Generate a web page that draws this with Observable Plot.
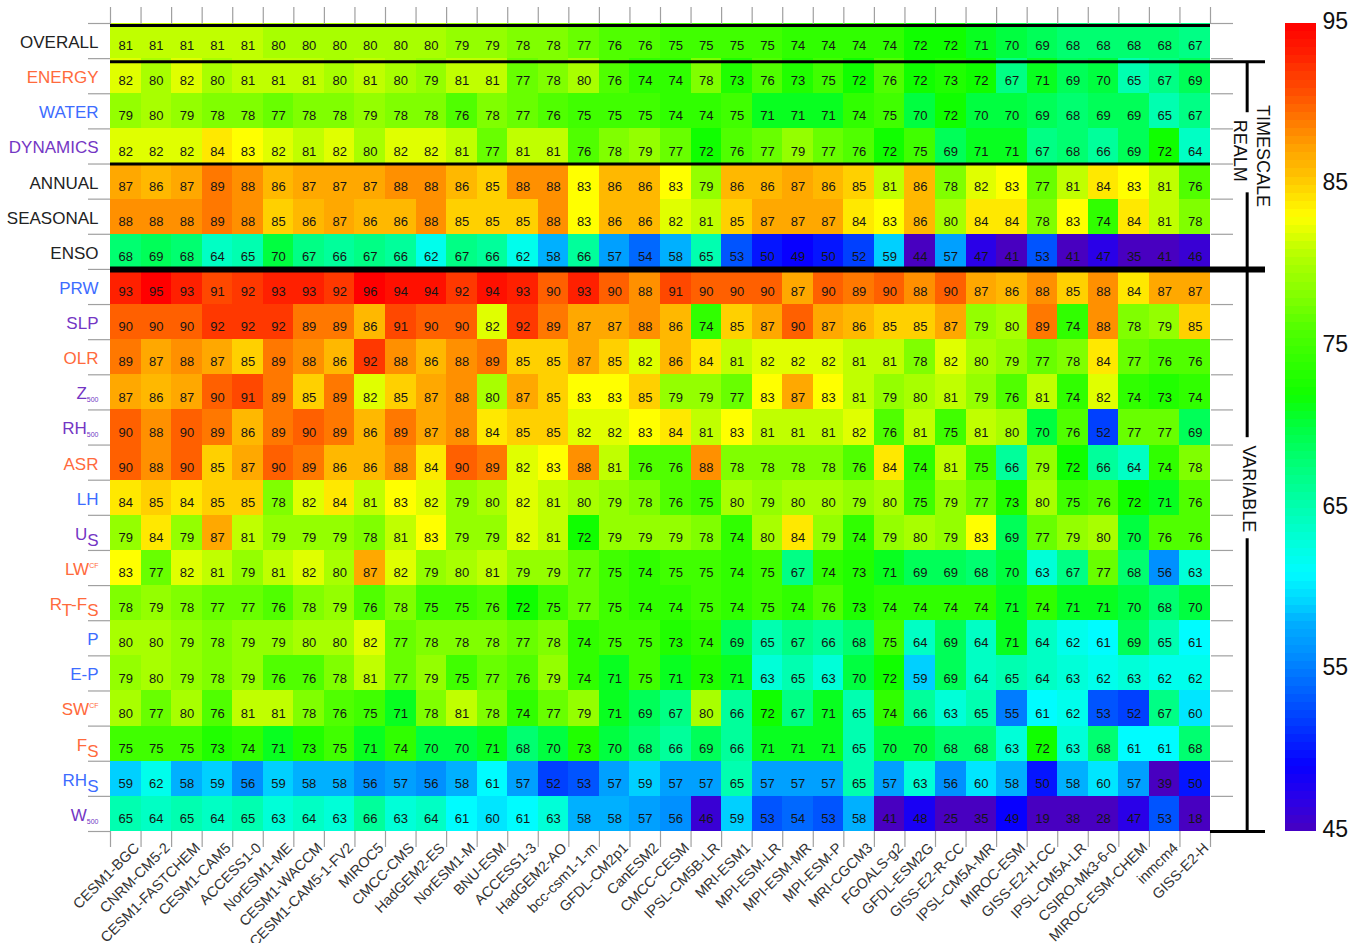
<!DOCTYPE html>
<html>
<head>
<meta charset="utf-8">
<script src="https://cdn.jsdelivr.net/npm/d3@7"></script>
<script src="https://cdn.jsdelivr.net/npm/@observablehq/plot@0.6"></script>
<style>
  body { margin: 0; background: #fff; }
  #wrap { position: relative; width: 1365px; height: 943px; overflow: hidden; }
  #wrap svg { position: absolute; top: 0; }
</style>
</head>
<body>
<div id="wrap"></div>
<script>
// Models, ordered by overall score
const models = ["CESM1-BGC","CNRM-CM5-2","CESM1-FASTCHEM","CESM1-CAM5","ACCESS1-0","NorESM1-ME","CESM1-WACCM","CESM1-CAM5-1-FV2","MIROC5","CMCC-CMS","HadGEM2-ES","NorESM1-M","BNU-ESM","ACCESS1-3","HadGEM2-AO","bcc-csm1-1-m","GFDL-CM2p1","CanESM2","CMCC-CESM","IPSL-CM5B-LR","MRI-ESM1","MPI-ESM-LR","MPI-ESM-MR","MPI-ESM-P","MRI-CGCM3","FGOALS-g2","GFDL-ESM2G","GISS-E2-R-CC","IPSL-CM5A-MR","MIROC-ESM","GISS-E2-H-CC","IPSL-CM5A-LR","CSIRO-Mk3-6-0","MIROC-ESM-CHEM","inmcm4","GISS-E2-H"];

// Row labels: "_x" marks a subscript, "^x" a superscript
const rows = ["OVERALL","ENERGY","WATER","DYNAMICS","ANNUAL","SEASONAL","ENSO","PRW","SLP","OLR","Z_500","RH_500","ASR","LH","U_S","LW^CF","R_T-F_S","P","E-P","SW^CF","F_S","RH_S","W_500"];
const rowGroups = ["none","energy","water","dynamics","none","none","none","water","dynamics","energy","dynamics","dynamics","energy","water","dynamics","energy","energy","water","water","energy","energy","water","dynamics"];

// Scores per row
const overall  = [81,81,81,81,81,80,80,80,80,80,80,79,79,78,78,77,76,76,75,75,75,75,74,74,74,74,72,72,71,70,69,68,68,68,68,67];
const energy   = [82,80,82,80,81,81,81,80,81,80,79,81,81,77,78,80,76,74,74,78,73,76,73,75,72,76,72,73,72,67,71,69,70,65,67,69];
const water    = [79,80,79,78,78,77,78,78,79,78,78,76,78,77,76,75,75,75,74,74,75,71,71,71,74,75,70,72,70,70,69,68,69,69,65,67];
const dynamics = [82,82,82,84,83,82,81,82,80,82,82,81,77,81,81,76,78,79,77,72,76,77,79,77,76,72,75,69,71,71,67,68,66,69,72,64];
const annual   = [87,86,87,89,88,86,87,87,87,88,88,86,85,88,88,83,86,86,83,79,86,86,87,86,85,81,86,78,82,83,77,81,84,83,81,76];
const seasonal = [88,88,88,89,88,85,86,87,86,86,88,85,85,85,88,83,86,86,82,81,85,87,87,87,84,83,86,80,84,84,78,83,74,84,81,78];
const enso     = [68,69,68,64,65,70,67,66,67,66,62,67,66,62,58,66,57,54,58,65,53,50,49,50,52,59,44,57,47,41,53,41,47,35,41,46];
const prw      = [93,95,93,91,92,93,93,92,96,94,94,92,94,93,90,93,90,88,91,90,90,90,87,90,89,90,88,90,87,86,88,85,88,84,87,87];
const slp      = [90,90,90,92,92,92,89,89,86,91,90,90,82,92,89,87,87,88,86,74,85,87,90,87,86,85,85,87,79,80,89,74,88,78,79,85];
const olr      = [89,87,88,87,85,89,88,86,92,88,86,88,89,85,85,87,85,82,86,84,81,82,82,82,81,81,78,82,80,79,77,78,84,77,76,76];
const z500     = [87,86,87,90,91,89,85,89,82,85,87,88,80,87,85,83,83,85,79,79,77,83,87,83,81,79,80,81,79,76,81,74,82,74,73,74];
const rh500    = [90,88,90,89,86,89,90,89,86,89,87,88,84,85,85,82,82,83,84,81,83,81,81,81,82,76,81,75,81,80,70,76,52,77,77,69];
const asr      = [90,88,90,85,87,90,89,86,86,88,84,90,89,82,83,88,81,76,76,88,78,78,78,78,76,84,74,81,75,66,79,72,66,64,74,78];
const lh       = [84,85,84,85,85,78,82,84,81,83,82,79,80,82,81,80,79,78,76,75,80,79,80,80,79,80,75,79,77,73,80,75,76,72,71,76];
const us       = [79,84,79,87,81,79,79,79,78,81,83,79,79,82,81,72,79,79,79,78,74,80,84,79,74,79,80,79,83,69,77,79,80,70,76,76];
const lwcf     = [83,77,82,81,79,81,82,80,87,82,79,80,81,79,79,77,75,74,75,75,74,75,67,74,73,71,69,69,68,70,63,67,77,68,56,63];
const rtfs     = [78,79,78,77,77,76,78,79,76,78,75,75,76,72,75,77,75,74,74,75,74,75,74,76,73,74,74,74,74,71,74,71,71,70,68,70];
const precip   = [80,80,79,78,79,79,80,80,82,77,78,78,78,77,78,74,75,75,73,74,69,65,67,66,68,75,64,69,64,71,64,62,61,69,65,61];
const eMinusP  = [79,80,79,78,79,76,76,78,81,77,79,75,77,76,79,74,71,75,71,73,71,63,65,63,70,72,59,69,64,65,64,63,62,63,62,62];
const swcf     = [80,77,80,76,81,81,78,76,75,71,78,81,78,74,77,79,71,69,67,80,66,72,67,71,65,74,66,63,65,55,61,62,53,52,67,60];
const fs       = [75,75,75,73,74,71,73,75,71,74,70,70,71,68,70,73,70,68,66,69,66,71,71,71,65,70,70,68,68,63,72,63,68,61,61,68];
const rhs      = [59,62,58,59,56,59,58,58,56,57,56,58,61,57,52,53,57,59,57,57,65,57,57,57,65,57,63,56,60,58,50,58,60,57,39,50];
const w500     = [65,64,65,64,65,63,64,63,66,63,64,61,60,61,63,58,58,57,56,46,59,53,54,53,58,41,48,25,35,49,19,38,28,47,53,18];

const scores = [overall, energy, water, dynamics, annual, seasonal, enso, prw, slp, olr, z500, rh500, asr, lh, us, lwcf, rtfs, precip, eMinusP, swcf, fs, rhs, w500];

// Rainbow colour ramp (violet -> blue -> cyan -> green -> yellow -> red)
const colorStops = [45, 47, 49, 52, 54, 56, 58, 59, 61, 63, 65, 68, 70, 72, 74, 76, 78, 80, 81, 82, 83, 84, 85, 86, 87, 88, 89, 90, 91, 92, 93, 94, 95];
const colorHex = ["#4800c0","#2a00e8","#0800ff","#0040ff","#0068ff","#0090ff","#00b0ff","#00d0ff","#00fcff","#00ffd8","#00ffb0","#00ff70","#00ff40","#10ff00","#30ff00","#50ff00","#80ff00","#a8ff00","#c0ff00","#e0ff00","#ffff00","#ffe800","#ffd000","#ffb800","#ffa800","#ff9000","#ff7800","#ff6000","#ff4800","#ff3800","#ff2000","#ff1000","#ff0000"];
const colorbarTicks = [45, 55, 65, 75, 85, 95];

const groupColor = {none: "#222", energy: "#ff6a3c", water: "#3d6cff", dynamics: "#7436c4"};

const cells = rows.flatMap((r, i) => scores[i].map((v, j) => ({row: i, col: j, v})));

const W = 1365, H = 943;
const mLeft = 110, mRight = 155, mTop = 23, mBottom = 112;
const nR = rows.length, nC = models.length;
const gray = "#a0a0a0";
const font = "'Liberation Sans', Arial, Helvetica, sans-serif";
const color = {type: "linear", domain: colorStops, range: colorHex, clamp: true, interpolate: "rgb"};

// Bracket annotations on the right, in column/row units
const bracketX = 37.2, bracketEnd = 37.8;
const bracketSegments = [{y1: 1.09, y2: 2.54}, {y1: 4.82, y2: 11.79}, {y1: 14.67, y2: 23}];
const bracketLabels = [
  {text: "REALM", x: 36.97, y: 3.62},
  {text: "TIMESCALE", x: 37.70, y: 3.77},
  {text: "VARIABLE", x: 37.26, y: 13.25}
];

const main = Plot.plot({
  width: W, height: H,
  marginLeft: mLeft, marginRight: mRight, marginTop: mTop, marginBottom: mBottom,
  style: {fontFamily: font, background: "transparent", overflow: "visible"},
  x: {domain: [0, nC], axis: null, label: null},
  y: {domain: [0, nR], reverse: true, axis: null, label: null},
  color,
  marks: [
    Plot.rect(cells, {x1: d => d.col, x2: d => d.col + 1, y1: d => d.row, y2: d => d.row + 1, fill: "v", shapeRendering: "crispEdges"}),
    Plot.text(cells, {x: d => d.col + 0.5, y: d => d.row + 0.5, text: d => String(d.v), fontSize: 13, dy: 5, fill: "#151515"}),
    // cell-boundary ticks on all four sides
    Plot.axisX(d3.range(nC + 1), {anchor: "top", label: null, tickSize: 17, tickPadding: 0, tickFormat: () => "", stroke: gray, strokeWidth: 1.2}),
    Plot.axisX(d3.range(nC + 1), {anchor: "bottom", label: null, tickSize: 16, tickPadding: 0, tickFormat: () => "", stroke: gray, strokeWidth: 1.2}),
    Plot.axisY(d3.range(nR + 1), {anchor: "left", label: null, tickSize: 22, tickPadding: 0, tickFormat: () => "", stroke: gray, strokeWidth: 1.2}),
    Plot.axisY(d3.range(nR + 1), {anchor: "right", label: null, tickSize: 22, tickPadding: 0, tickFormat: () => "", stroke: gray, strokeWidth: 1.2}),
    // model names
    Plot.axisX(d3.range(nC).map(j => j + 0.5), {anchor: "bottom", label: null, tickSize: 0, tickPadding: 14, tickRotate: -45, dx: 11, tickFormat: v => models[Math.floor(v)], fontSize: 14.5, fill: "#333"}),
    // row names
    Plot.axisY(d3.range(nR).map(i => i + 0.5), {anchor: "left", label: null, tickSize: 0, tickPadding: 12, dy: 1.5, tickFormat: v => rows[Math.floor(v)], fontSize: 17}),
    // group separators
    Plot.ruleY([0], {x1: 0, x2: nC, stroke: "#000", strokeWidth: 3, dy: 2}),
    Plot.ruleY([1], {x1: 0, x2: bracketEnd, stroke: "#000", strokeWidth: 3, dy: 3}),
    Plot.ruleY([4], {x1: 0, x2: nC, stroke: "#000", strokeWidth: 3}),
    Plot.ruleY([7], {x1: 0, x2: bracketEnd, stroke: "#000", strokeWidth: 6}),
    Plot.ruleY([nR], {x1: nC, x2: bracketEnd, stroke: "#000", strokeWidth: 3}),
    Plot.ruleX(bracketSegments, {x: bracketX, y1: "y1", y2: "y2", stroke: "#000", strokeWidth: 3}),
    Plot.text(bracketLabels, {x: "x", y: "y", text: "text", rotate: 90, fontSize: 18, fill: "#111"})
  ]
});

// Rebuild row labels with sub/superscripts and group colours
const svgNS = "http://www.w3.org/2000/svg";
d3.select(main).selectAll("text").each(function () {
  const label = this.textContent;
  const i = rows.indexOf(label);
  if (i < 0 || this.closest("g[aria-label='text']")) return;
  this.setAttribute("fill", groupColor[rowGroups[i]]);
  if (!/[_^]/.test(label)) return;
  this.textContent = "";
  let shift = 0;
  for (const part of label.split(/([_^][A-Z0-9]+)/).filter(s => s)) {
    let txt = part, target = 0, size = null;
    if (part[0] === "_") {
      txt = part.slice(1);
      if (/^\d+$/.test(txt)) { size = 7; target = 3; } else { target = 6; }
    } else if (part[0] === "^") {
      txt = part.slice(1); size = 7; target = -7;
    }
    const ts = document.createElementNS(svgNS, "tspan");
    ts.setAttribute("dy", target - shift);
    shift = target;
    if (size) ts.setAttribute("font-size", size);
    ts.textContent = txt;
    this.appendChild(ts);
  }
});

const bar = Plot.plot({
  width: 80, height: H,
  marginLeft: 0, marginRight: 49, marginTop: mTop, marginBottom: mBottom,
  style: {fontFamily: font, background: "transparent", overflow: "visible"},
  x: {domain: [0, 1], axis: null, label: null},
  y: {domain: [45, 95], axis: null, label: null},
  color,
  marks: [
    Plot.rect(d3.range(45, 95, 0.5), {x1: 0, x2: 1, y1: d => d, y2: d => d + 0.5, fill: d => d + 0.25, shapeRendering: "crispEdges"}),
    Plot.axisY(colorbarTicks, {anchor: "right", label: null, tickSize: 0, tickPadding: 6, dy: -2, fontSize: 23, fill: "#111"})
  ]
});
bar.style.left = "1285px";

const wrap = document.getElementById("wrap");
main.style.left = "0px";
wrap.appendChild(main);
wrap.appendChild(bar);
</script>
</body>
</html>
